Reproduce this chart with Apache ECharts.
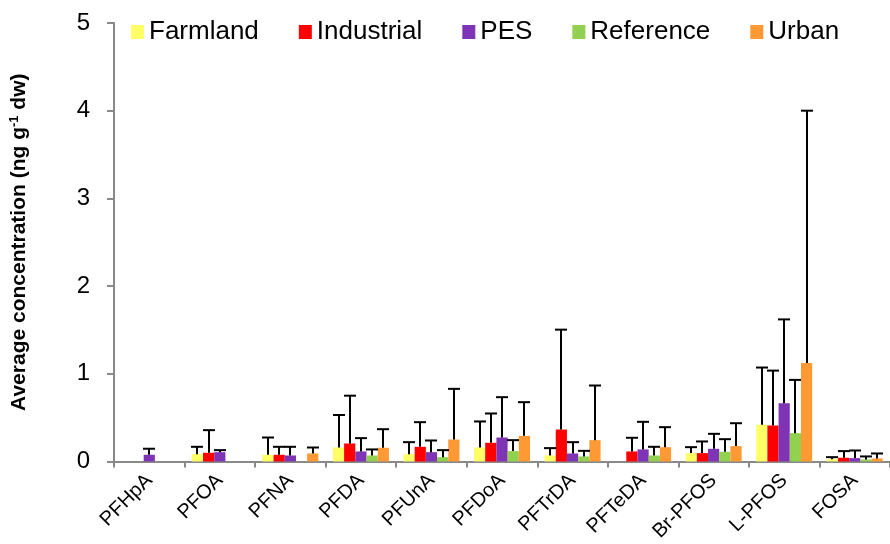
<!DOCTYPE html>
<html>
<head>
<meta charset="utf-8">
<script src="https://cdn.jsdelivr.net/npm/echarts@6/dist/echarts.min.js"></script>
<style>html,body{margin:0;padding:0;background:#fff}#c{width:890px;height:544px}</style>
</head>
<body>
<div id="c"></div>
<script>
const categories = ['PFHpA','PFOA','PFNA','PFDA','PFUnA','PFDoA','PFTrDA','PFTeDA','Br-PFOS','L-PFOS','FOSA'];
const seriesNames = ['Farmland','Industrial','PES','Reference','Urban'];
const farmland     = [null, 0.083, 0.076, 0.159, 0.083, 0.159, 0.068, null, 0.095, 0.418, 0.026];
const farmlandSD   = [null, 0.084, 0.197, 0.371, 0.137, 0.297, 0.084, null, 0.068, 0.653, 0.023];
const industrial   = [null, 0.099, 0.076, 0.205, 0.167, 0.213, 0.364, 0.114, 0.095, 0.410, 0.042];
const industrialSD = [null, 0.258, 0.091, 0.545, 0.281, 0.334, 1.139, 0.156, 0.133, 0.626, 0.076];
const pes          = [0.076, 0.106, 0.068, 0.114, 0.106, 0.273, 0.091, 0.137, 0.144, 0.664, 0.038];
const pesSD        = [0.069, 0.023, 0.099, 0.152, 0.133, 0.460, 0.129, 0.315, 0.171, 0.956, 0.087];
const reference    = [null, null, null, 0.068, 0.049, 0.118, 0.057, 0.068, 0.110, 0.323, 0.023];
const referenceSD  = [null, null, null, 0.069, 0.080, 0.125, 0.064, 0.099, 0.144, 0.607, 0.034];
const urban        = [null, null, 0.091, 0.156, 0.250, 0.292, 0.243, 0.163, 0.175, 1.124, 0.034];
const urbanSD      = [null, null, 0.068, 0.212, 0.578, 0.384, 0.623, 0.228, 0.261, 2.876, 0.057];
const yTicks = [0, 1, 2, 3, 4, 5];

const colors = ['#FFFF66', '#FF0000', '#7F33B5', '#92D050', '#FF9933'];
const means = [farmland, industrial, pes, reference, urban];
const sds = [farmlandSD, industrialSD, pesSD, referenceSD, urbanSD];
const BAR_W = 11.2;
const FONT = "'Liberation Sans', Arial, sans-serif";

const series = [];
seriesNames.forEach((name, i) => {
  series.push({
    name: name, type: 'bar', data: means[i], barWidth: BAR_W, barGap: '0%',
    itemStyle: { color: colors[i] }, z: 2
  });
});
seriesNames.forEach((name, i) => {
  const data = [];
  means[i].forEach((m, k) => { if (m != null && sds[i][k] != null) data.push([k, m, m + sds[i][k]]); });
  series.push({
    type: 'custom', name: name + '_err', z: 5, silent: true,
    data: data,
    renderItem: function (params, api) {
      const low = api.coord([api.value(0), api.value(1)]);
      const high = api.coord([api.value(0), api.value(2)]);
      const x = Math.round(low[0] + (i - 2) * BAR_W);
      const st = { stroke: '#000', lineWidth: 2 };
      return { type: 'group', children: [
        { type: 'line', shape: { x1: x, y1: low[1], x2: x, y2: high[1] }, style: st },
        { type: 'line', shape: { x1: x - 6, y1: high[1], x2: x + 6, y2: high[1] }, style: st }
      ]};
    }
  });
});

const chart = echarts.init(document.getElementById('c'));
chart.setOption({
  animation: false,
  textStyle: { fontFamily: FONT },
  grid: { left: 107, top: 23, bottom: 82, width: 792, containLabel: false },
  legend: {
    data: seriesNames, left: 126, top: 14, itemWidth: 13, itemHeight: 14, itemGap: 40,
    icon: 'rect',
    textStyle: { fontSize: 26, color: '#000', fontFamily: FONT }
  },
  xAxis: {
    type: 'category', data: categories,
    axisLine: { lineStyle: { color: '#898989', width: 2 } },
    axisTick: { show: true, length: 6, alignWithLabel: false, interval: 0, lineStyle: { color: '#898989', width: 2 } },
    axisLabel: { rotate: 45, interval: 0, fontSize: 20, color: '#000', margin: 16, fontFamily: FONT }
  },
  yAxis: {
    type: 'value', min: 0, max: 5, interval: 1,
    splitLine: { show: false },
    axisLine: { show: true, lineStyle: { color: '#898989', width: 2 } },
    axisTick: { show: true, length: 7, lineStyle: { color: '#898989', width: 2 } },
    axisLabel: { fontSize: 24, color: '#000', margin: 24, fontFamily: FONT,
      formatter: v => yTicks.indexOf(v) >= 0 ? String(v) : '' },
    name: 'Average concentration (ng g{sup|-1} dw)',
    nameLocation: 'middle', nameGap: 83, nameRotate: 90,
    nameTextStyle: { fontSize: 21, fontWeight: 'bold', color: '#000', fontFamily: FONT,
      rich: { sup: { fontSize: 13, fontWeight: 'bold', color: '#000', fontFamily: FONT, padding: [0, 0, 10, 0] } } }
  },
  series: series
});
</script>
</body>
</html>
